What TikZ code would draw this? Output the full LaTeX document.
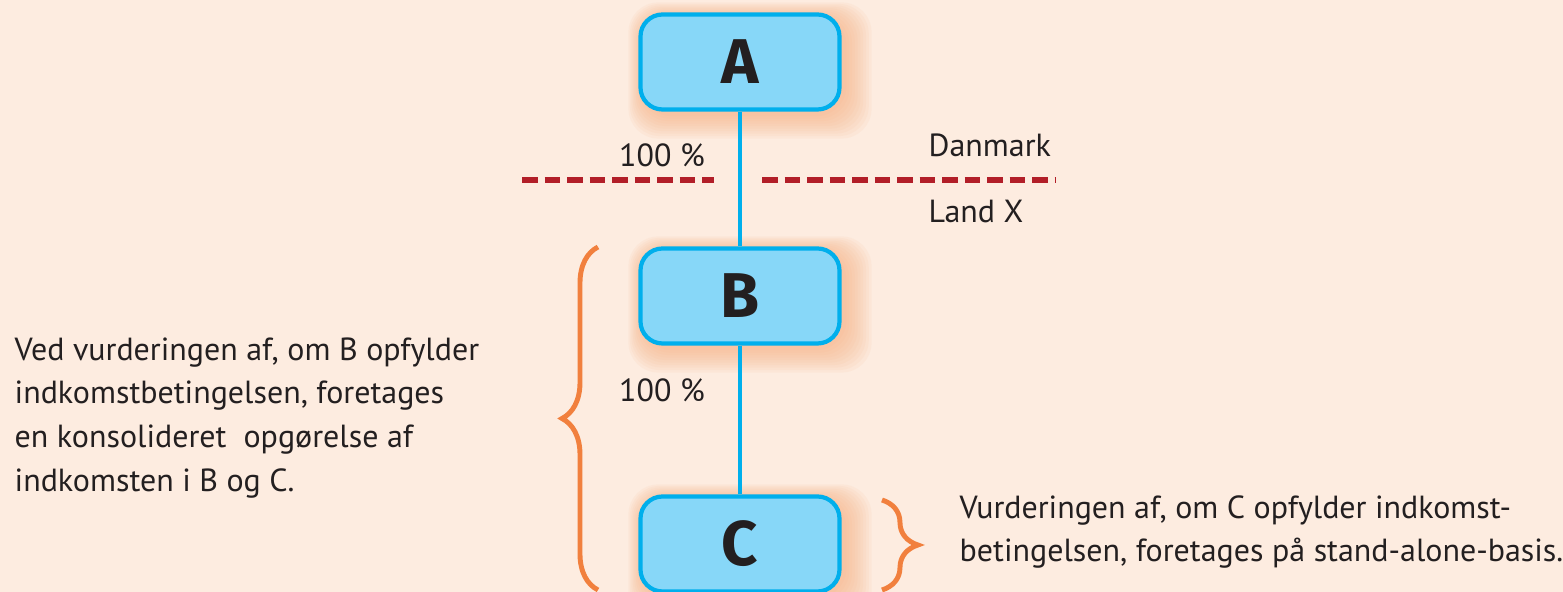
\documentclass[tikz,border=0pt]{standalone}
\usepackage{fontspec}
\setmainfont{PT Sans}
\newfontfamily\letterfont{Fira Sans}
\usetikzlibrary{decorations.pathreplacing}
\definecolor{bgcolor}{RGB}{253,236,224}
\definecolor{boxfill}{RGB}{135,215,248}
\definecolor{boxline}{RGB}{0,175,236}
\definecolor{bordercolor}{RGB}{178,30,40}
\definecolor{bracecolor}{RGB}{241,128,62}
\definecolor{glowcolor}{RGB}{248,170,120}
\definecolor{textcolor}{RGB}{35,31,32}
\pgfdeclarelayer{background}
\pgfsetlayers{background,main}
\tikzset{companynode/.style={draw=boxline,fill=boxfill,line width=1.2pt,rounded corners=0.22cm,
    minimum width=1.99cm,minimum height=0.95cm,font=\letterfont\fontsize{18}{20}\selectfont\bfseries,text=textcolor},
  ownerline/.style={draw=boxline,line width=1.3pt},
  borderline/.style={draw=bordercolor,line width=1.5pt,dash pattern=on 0.155cm off 0.07cm},
  groupbrace/.style={draw=bracecolor,line width=1.4pt,decorate,decoration={brace,amplitude=0.36cm}},
  labeltext/.style={text=textcolor,font=\fontsize{9.1}{12.5}\selectfont,inner sep=0pt}}

\begin{document}
\begin{tikzpicture}
		\begin{pgfonlayer}{background}
		\fill[bgcolor] (0,0) rectangle (15.63,5.92);
		\end{pgfonlayer}
		\useasboundingbox (0,0) rectangle (15.63,5.92);
		%
		\node[companynode] (a) at (7.40,5.30) {A};
		\node[companynode] (b) at (7.40,2.96) {B};
		\node[companynode] (c) at (7.40,0.48) {C};
		%
		\begin{pgfonlayer}{background}
		\foreach \n in {a,b,c}
			\foreach \r in {1,...,10}
				\fill[glowcolor,opacity=0.08,rounded corners=0.3cm]
					([shift={(-0.015*\r+0.05,-0.025*\r-0.02)}]\n.south west) rectangle
					([shift={(0.028*\r+0.02,0.015*\r-0.05)}]\n.north east);
		\end{pgfonlayer}
		%
		\draw[ownerline] (a) -- (b);
		\draw[ownerline] (b) -- (c);
		%
		\coordinate (dl1) at (5.22,4.12);
		\coordinate (dl2) at (7.14,4.12);
		\coordinate (dr1) at (7.62,4.12);
		\coordinate (dr2) at (10.56,4.12);
		\draw[borderline] (dl1) -- (dl2);
		\draw[borderline] (dr1) -- (dr2);
		%
		\node[labeltext] (pab) at (6.62,4.37) {100 \%};
		\node[labeltext] (pbc) at (6.62,2.02) {100 \%};
		\node[labeltext,anchor=west] (dk) at (9.28,4.47) {Danmark};
		\node[labeltext,anchor=west] (lx) at (9.28,3.80) {Land X};
		%
		\coordinate (lb1) at (5.98,0.02);
		\coordinate (lb2) at (5.98,3.45);
		\coordinate (rb1) at (8.82,0.92);
		\coordinate (rb2) at (8.82,0.02);
		\draw[groupbrace] (lb1) -- (lb2);
		\draw[groupbrace] (rb1) -- (rb2);
		%
		\node[labeltext,anchor=west,align=left] (consol) at (0.14,1.74)
			{Ved vurderingen af, om B opfylder\\indkomstbetingelsen, foretages\\en konsolideret\ \ opgørelse af\\indkomsten i B og C.};
		\node[labeltext,anchor=west,align=left] (standalone) at (9.59,0.60)
			{Vurderingen af, om C opfylder indkomst-\\betingelsen, foretages på stand-alone-basis.};
	\end{tikzpicture}
\end{document}
